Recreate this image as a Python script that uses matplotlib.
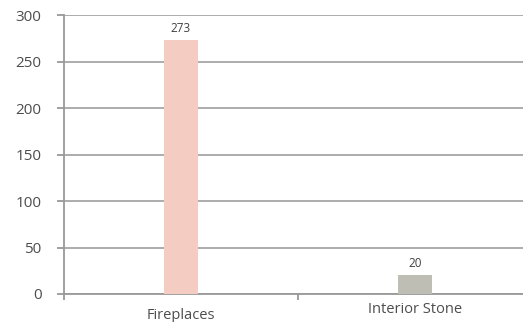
import matplotlib.pyplot as plt
import numpy as np

categories = ['Fireplaces', 'Interior Stone']
values = [273, 20]
colors = ['#F4CCC2', '#BEBEB4']
yticks = [0, 50, 100, 150, 200, 250, 300]

plt.rcParams['font.family'] = ['Open Sans', 'DejaVu Sans']

fig = plt.figure(figsize=(5.23, 3.22), dpi=100)
ax = fig.add_axes([0.122, 0.087, 0.895, 0.866])

x = np.arange(len(categories))
bars = ax.bar(x, values, width=0.145, color=colors, zorder=3)
for b, v in zip(bars, values):
    ax.text(b.get_x() + b.get_width() / 2, v + 6, str(v), ha='center', va='bottom',
            fontsize=8.5, color='#404040')

ax.set_xlim(-0.5, 1.5)
ax.set_ylim(0, 300)
ax.set_yticks(yticks)
ax.tick_params(axis='y', labelsize=11, colors='#999999', labelcolor='#4d4d4d',
               length=5, width=1.3, pad=11)
ax.yaxis.grid(True, color='#a6a6a6', linewidth=1.3, zorder=0)

# category labels, ticks at category boundaries
ax.set_xticks([-0.5, 0.5, 1.5])
ax.set_xticklabels([])
ax.tick_params(axis='x', colors='#999999', length=4, width=1.3)
ax.set_xticks(x, minor=True)
ax.set_xticklabels(categories, minor=True)
ax.tick_params(axis='x', which='minor', length=0, labelsize=10.5, labelcolor='#4d4d4d')
ax.xaxis.get_minor_ticks()[0].set_pad(10)
ax.xaxis.get_minor_ticks()[1].set_pad(6)

for s in ['top', 'right']:
    ax.spines[s].set_visible(False)
for s in ['left', 'bottom']:
    ax.spines[s].set_color('#999999')
    ax.spines[s].set_linewidth(1.3)

fig.savefig('out.png', dpi=100)
